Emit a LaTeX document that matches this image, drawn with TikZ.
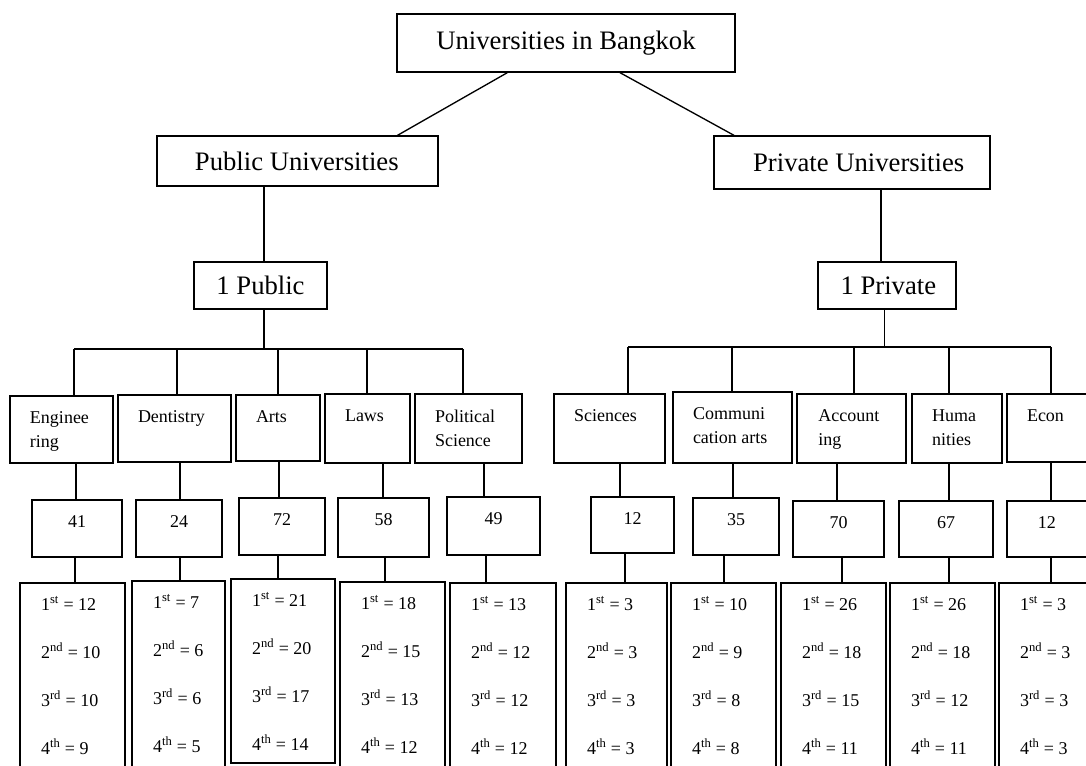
\documentclass[tikz,border=0pt]{standalone}
\usepackage{fontspec}
\setmainfont{Liberation Serif}
\usetikzlibrary{
fit,
calc,
positioning
}
\newcommand{\ranks}[4]{1\textsuperscript{st} = #1\\2\textsuperscript{nd} = #2\\3\textsuperscript{rd} = #3\\4\textsuperscript{th} = #4}

\begin{document}
\begin{tikzpicture}[x=0.75pt, y=-0.75pt, line width=1pt,
box/.style={draw, inner sep=0pt, fit={#1}},
big/.style={inner sep=0pt, font=\fontsize{20}{24}\selectfont},
txt/.style={anchor=north west, inner sep=0pt, align=left, font=\fontsize{13.5}{18}\selectfont},
num/.style={anchor=north, inner sep=0pt, font=\fontsize{13.5}{18}\selectfont},
rank/.style={anchor=north west, inner sep=0pt, align=left, font=\fontsize{13.5}{36}\selectfont}]

\useasboundingbox (0,0) rectangle (1086,765);
\clip (0,0) rectangle (1086,765);

% oben
\node[box={(397,14) (735,72)}] (ubk) {};
\node[box={(157,136) (438,186)}] (pub) {};
\node[box={(714,136) (990,189)}] (priv) {};
\node[box={(194,262) (327,309)}] (pub1) {};
\node[box={(818,262) (956,309)}] (priv1) {};

\node[big] at (ubk.center) {Universities in Bangkok};
\node[big] at ([xshift=-0.5pt]pub.center) {Public Universities};
\node[big] at ([xshift=5pt]priv.center) {Private Universities};
\node[big] at (pub1.center) {1 Public};
\node[big] at ([xshift=1pt]priv1.center) {1 Private};

\draw ([xshift=-44pt]ubk.south) -- ([xshift=75pt]pub.north);
\draw ([xshift=40.5pt]ubk.south) -- ([xshift=-88.5pt]priv.north);
\draw ([xshift=2.5pt]pub1.north) -- ([xshift=2.5pt]pub1.north |- pub.south);
\draw ([xshift=-4.5pt]priv1.north) -- ([xshift=-4.5pt]priv1.north |- priv.south);

% balken
\coordinate (pbarL) at (74,349);
\coordinate (pbarR) at (463,349);
\coordinate (qbarL) at (628,347);
\coordinate (qbarR) at (1051,347);
\draw (pbarL) -- (pbarR);
\draw (qbarL) -- (qbarR);
\draw ([xshift=2.5pt]pub1.south) -- ([xshift=2.5pt]pub1.south |- pbarL);
\draw ([xshift=-2pt]priv1.south) -- ([xshift=-2pt]priv1.south |- qbarL);

% fakultaeten
\node[box={(10,396) (113,463)}] (eng) {};
\node[box={(118,395) (231,462)}] (den) {};
\node[box={(236,395) (320,461)}] (art) {};
\node[box={(325,394) (410,463)}] (law) {};
\node[box={(415,394) (522,463)}] (pol) {};
\node[box={(554,394) (665,463)}] (sci) {};
\node[box={(673,392) (792,463)}] (com) {};
\node[box={(797,394) (906,463)}] (acc) {};
\node[box={(912,394) (1002,463)}] (hum) {};
\node[box={(1007,394) (1092,462)}] (eco) {};

\node[txt] at ([xshift=15pt,yshift=-12pt]eng.north west) {Enginee\\ring};
\node[txt] at ([xshift=15pt,yshift=-12pt]den.north west) {Dentistry};
\node[txt] at ([xshift=15pt,yshift=-12pt]art.north west) {Arts};
\node[txt] at ([xshift=15pt,yshift=-12pt]law.north west) {Laws};
\node[txt] at ([xshift=15pt,yshift=-12pt]pol.north west) {Political\\Science};
\node[txt] at ([xshift=15pt,yshift=-12pt]sci.north west) {Sciences};
\node[txt] at ([xshift=15pt,yshift=-12pt]com.north west) {Communi\\cation arts};
\node[txt] at ([xshift=16pt,yshift=-12pt]acc.north west) {Account\\ing};
\node[txt] at ([xshift=15pt,yshift=-12pt]hum.north west) {Huma\\nities};
\node[txt] at ([xshift=15pt,yshift=-12pt]eco.north west) {Econ};

% anzahl
\node[box={(32,500) (122,557)}] (n1) {};
\node[box={(136,500) (222,557)}] (n2) {};
\node[box={(239,498) (325,555)}] (n3) {};
\node[box={(338,498) (429,557)}] (n4) {};
\node[box={(447,497) (540,555)}] (n5) {};
\node[box={(591,497) (674,553)}] (n6) {};
\node[box={(693,498) (779,555)}] (n7) {};
\node[box={(793,501) (884,557)}] (n8) {};
\node[box={(899,501) (993,557)}] (n9) {};
\node[box={(1007,501) (1092,557)}] (n10) {};

\foreach \n/\v in {n1/41, n2/24, n3/72, n4/58, n5/49, n6/12, n7/35, n8/70, n9/67}
{   \node[num] at ([yshift=-11.5pt]\n.north) {\v};
}
\node[num] at ([xshift=-2pt,yshift=-11.5pt]n10.north) {12};

% ränge
\node[box={(20,583) (125,770)}] (r1) {};
\node[box={(132,581) (225,770)}] (r2) {};
\node[box={(231,579) (335,763)}] (r3) {};
\node[box={(340,582) (445,770)}] (r4) {};
\node[box={(450,583) (556,770)}] (r5) {};
\node[box={(566,583) (667,770)}] (r6) {};
\node[box={(671,583) (776,770)}] (r7) {};
\node[box={(781,583) (886,770)}] (r8) {};
\node[box={(890,583) (995,770)}] (r9) {};
\node[box={(999,583) (1092,770)}] (r10) {};

\node[rank] at ([xshift=15.75pt,yshift=-10pt]r1.north west) {\ranks{12}{10}{10}{9}};
\node[rank] at ([xshift=15.75pt,yshift=-10pt]r2.north west) {\ranks{7}{6}{6}{5}};
\node[rank] at ([xshift=15.75pt,yshift=-10pt]r3.north west) {\ranks{21}{20}{17}{14}};
\node[rank] at ([xshift=15.75pt,yshift=-10pt]r4.north west) {\ranks{18}{15}{13}{12}};
\node[rank] at ([xshift=15.75pt,yshift=-10pt]r5.north west) {\ranks{13}{12}{12}{12}};
\node[rank] at ([xshift=15.75pt,yshift=-10pt]r6.north west) {\ranks{3}{3}{3}{3}};
\node[rank] at ([xshift=15.75pt,yshift=-10pt]r7.north west) {\ranks{10}{9}{8}{8}};
\node[rank] at ([xshift=15.75pt,yshift=-10pt]r8.north west) {\ranks{26}{18}{15}{11}};
\node[rank] at ([xshift=15.75pt,yshift=-10pt]r9.north west) {\ranks{26}{18}{12}{11}};
\node[rank] at ([xshift=15.75pt,yshift=-10pt]r10.north west) {\ranks{3}{3}{3}{3}};

% verbindungen
\foreach \f/\n/\r/\b/\xa/\xb/\xc in {eng/n1/r1/pbarL/74/76/75, den/n2/r2/pbarL/177/180/180, art/n3/r3/pbarL/278/279/278, law/n4/r4/pbarL/367/383/385, pol/n5/r5/pbarL/463/484/486, sci/n6/r6/qbarL/628/620/625, com/n7/r7/qbarL/732/733/724, acc/n8/r8/qbarL/854/837/842, hum/n9/r9/qbarL/949/949/949, eco/n10/r10/qbarL/1051/1051/1051}
{   \draw (\xa,0 |- \b) -- (\xa,0 |- \f.north);
    \draw (\xb,0 |- \f.south) -- (\xb,0 |- \n.north);
    \draw (\xc,0 |- \n.south) -- (\xc,0 |- \r.north);
}

\end{tikzpicture}
\end{document}
